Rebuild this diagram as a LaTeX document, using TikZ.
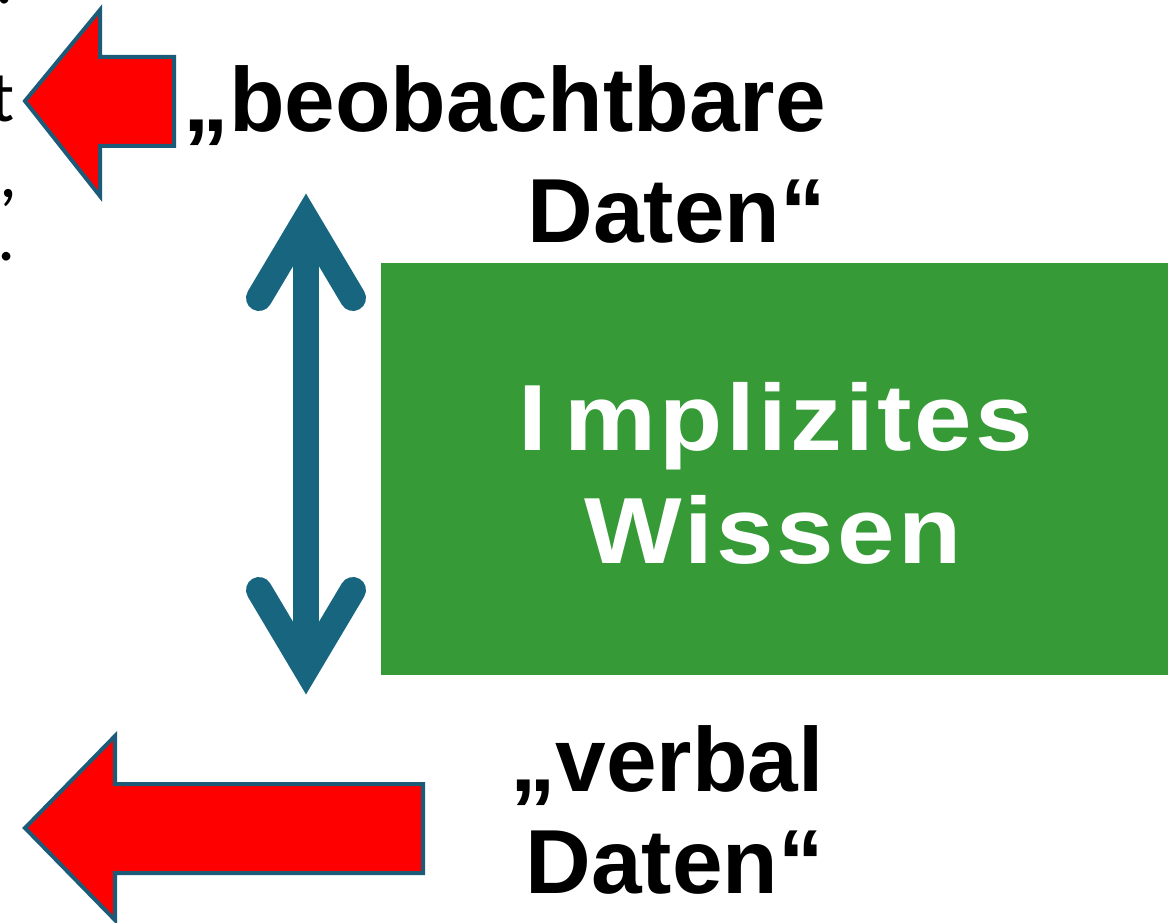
\documentclass[tikz,border=0pt]{standalone}
\usepackage{fontspec}
\setmainfont{Liberation Sans}
\newfontfamily\spacedfont[LetterSpace=3.5,FakeStretch=1.1]{Liberation Sans}
\newfontfamily\fragfont{Carlito}
\definecolor{boxgreen}{HTML}{369A37}
\definecolor{arrowred}{HTML}{FF0000}
\definecolor{arrowedge}{HTML}{1C5B78}
\definecolor{linkblue}{HTML}{17657F}
\begin{document}
\begin{tikzpicture}[x=1pt,y=-1pt,
  redarrow/.style={fill=arrowred, draw=arrowedge, line width=4pt, line join=miter},
  shaftline/.style={draw=linkblue, line width=26pt},
  headline/.style={draw=linkblue, line width=26pt, line cap=round, line join=miter},
  labeltext/.style={inner sep=0pt, text=black, font=\bfseries\fontsize{91}{110}\selectfont},
  boxtext/.style={inner sep=0pt, text=white, font=\spacedfont\bfseries\fontsize{94}{113}\selectfont},
  fragtext/.style={inner sep=0pt, text=black, font=\fragfont\fontsize{72}{86}\selectfont}]
\useasboundingbox (0,0) rectangle (1168,923);

% text running in from the left edge
\node[fragtext, anchor=base west, text height=8pt, text depth=0pt] (fdot) at (-5,4) {.};
\node[fragtext, anchor=base east] (ft) at (15,122) {t};
\node[fragtext, anchor=base west, text height=8pt, text depth=8pt] (fcomma) at (-1,197) {,};
\node[fragtext, anchor=base west, text height=8pt, text depth=0pt] (fstop) at (-3,260) {.};

% green box
\node[rectangle, fill=boxgreen, inner sep=0pt, minimum width=787pt, minimum height=412pt,
      anchor=north west] (box) at (381,263) {};
\node[boxtext, anchor=base] (impl) at (776,450) {I\kern17pt mplizites};
\node[boxtext, anchor=base] (wiss) at (773,563) {Wissen};

% red arrows pointing left
\draw[redarrow] (25,101) -- (100,10) -- (100,57) -- (174,57) -- (174,146)
  -- (100,146) -- (100,196) -- cycle;
\draw[redarrow] (25,828) -- (115,736) -- (115,784) -- (423,784) -- (423,873)
  -- (115,873) -- (115,920) -- cycle;

% labels
\node[labeltext, anchor=base east] (obs1) at (826,132) {„beobachtbare};
\node[labeltext, anchor=base east] (obs2) at (826,242) {Daten“};
\node[labeltext, anchor=base east] (verb1) at (824,791) {„verbal};
\node[labeltext, anchor=base east] (verb2) at (824,893) {Daten“};

% double-headed vertical arrow
\coordinate (dtop) at (306,219);
\coordinate (dbot) at (306,669);
\draw[shaftline] (dtop) -- (dbot);
\draw[headline] (259,298) -- (dtop) -- (353,298);
\draw[headline] (259,590) -- (dbot) -- (353,590);
\end{tikzpicture}
\end{document}
